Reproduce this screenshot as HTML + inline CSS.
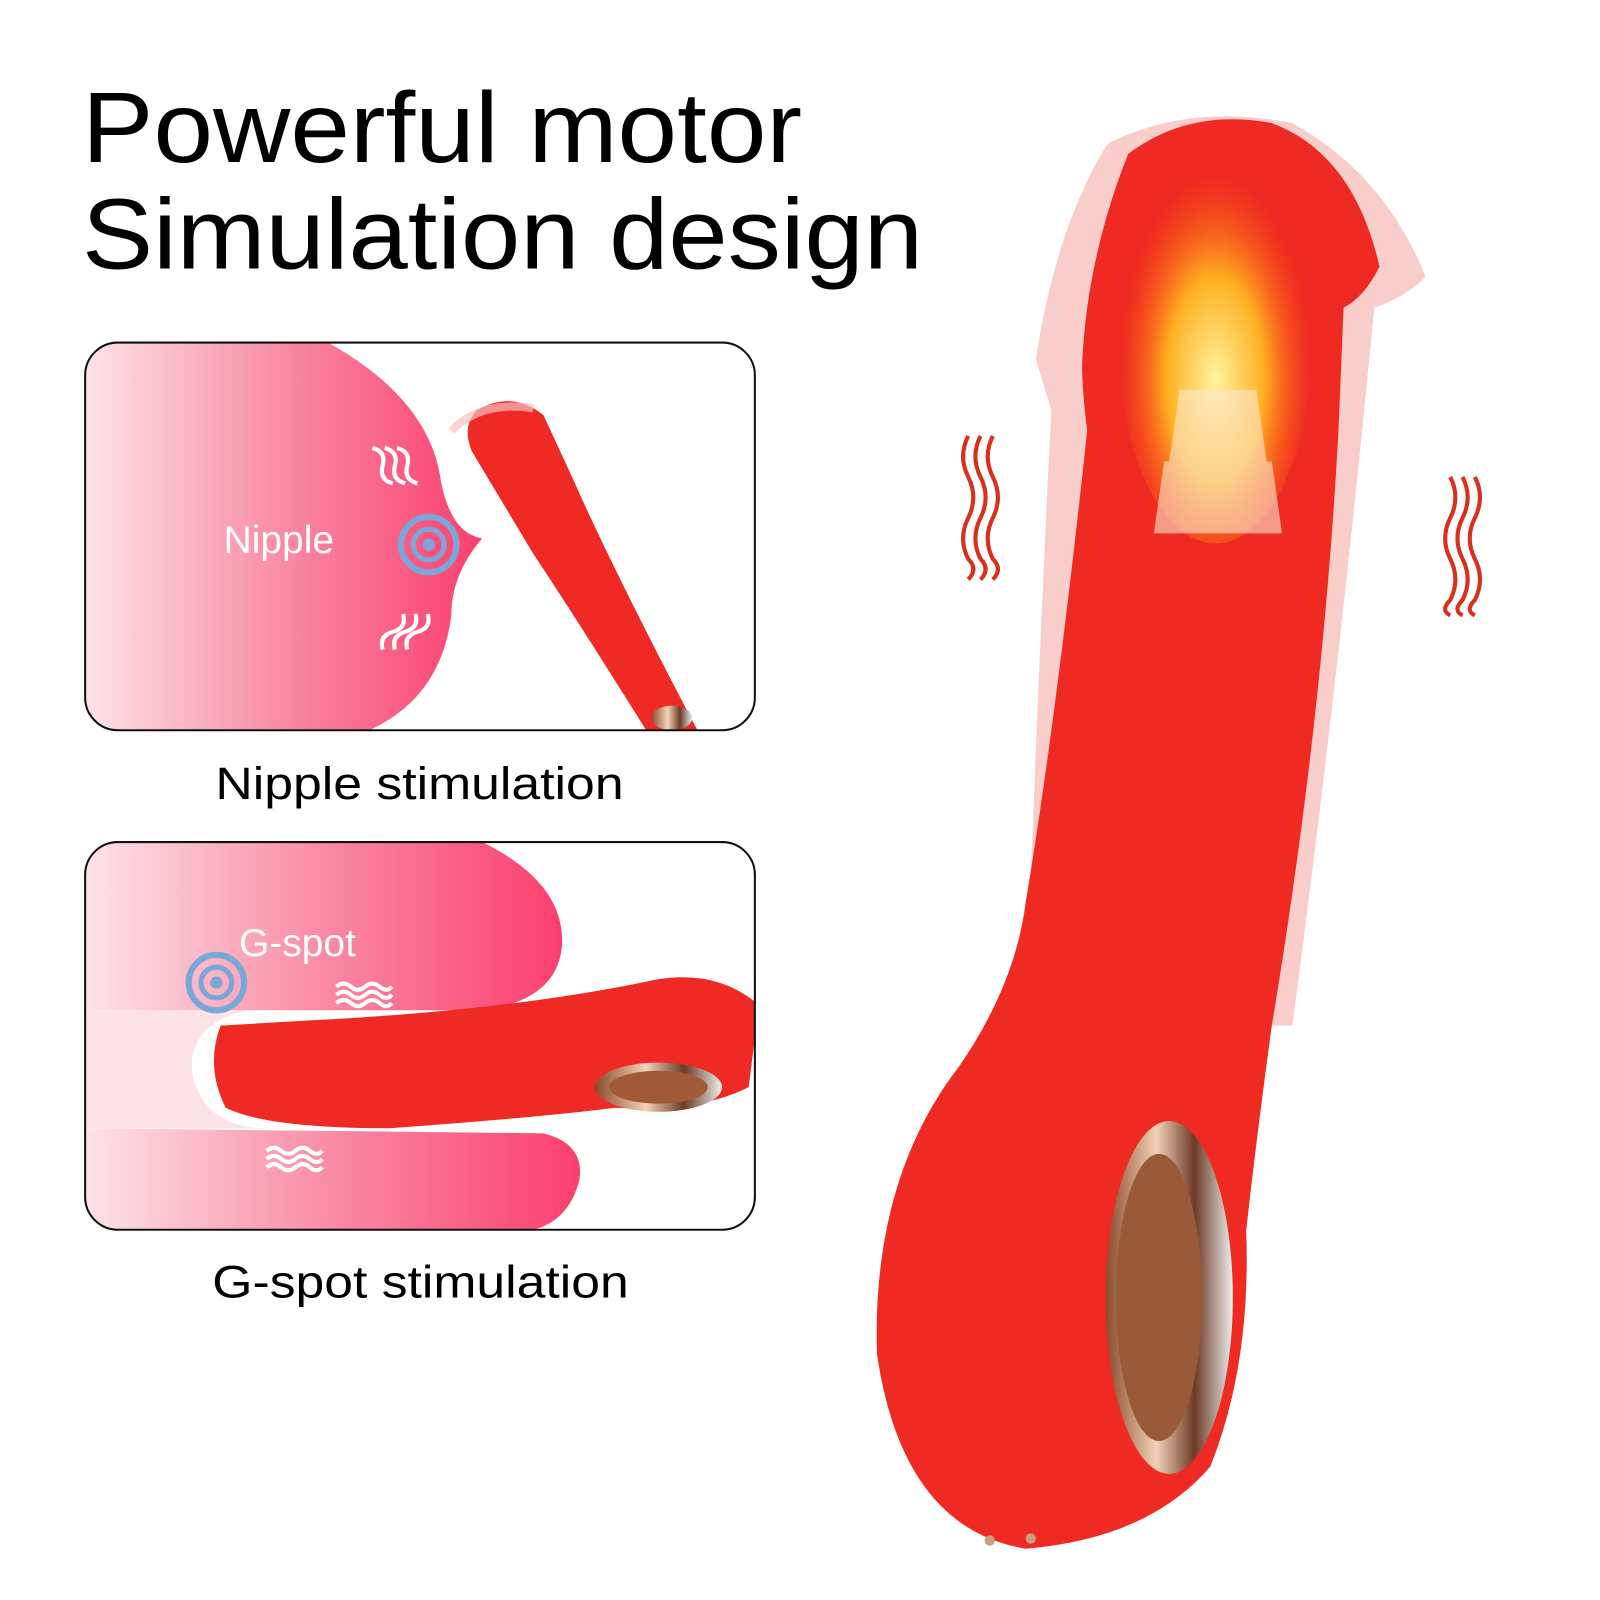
<!DOCTYPE html>
<html><head><meta charset="utf-8"><style>
html,body{margin:0;padding:0;background:#fff;}
svg{display:block;}
text{font-family:"Liberation Sans",Arial,sans-serif;}
</style></head><body>
<svg width="1600" height="1600" viewBox="0 0 1560 1560" xmlns="http://www.w3.org/2000/svg">
<defs>
<linearGradient id="pk" x1="0" x2="1" y1="0" y2="0">
<stop offset="0" stop-color="#fde3e8"/><stop offset="0.5" stop-color="#f98aa4"/><stop offset="1" stop-color="#fb3f6e"/></linearGradient>
<linearGradient id="chr" x1="0" x2="1"><stop offset="0" stop-color="#8a4a2a"/><stop offset="0.4" stop-color="#f3d2b8"/><stop offset="0.7" stop-color="#6b3a25"/><stop offset="1" stop-color="#eee"/></linearGradient>
<radialGradient id="fl" cx="0.5" cy="0.6" r="0.5"><stop offset="0" stop-color="#fff4a0"/><stop offset="0.5" stop-color="#ffb020"/><stop offset="1" stop-color="#ff5a10" stop-opacity="0"/></radialGradient>
<clipPath id="c1"><rect x="83" y="334" width="653" height="378" rx="32"/></clipPath>
<clipPath id="c2"><rect x="83" y="821" width="653" height="378" rx="32"/></clipPath>
</defs>
<text x="80" y="158" font-size="98" textLength="702" lengthAdjust="spacingAndGlyphs">Powerful motor</text>
<text x="80" y="262" font-size="98" textLength="820" lengthAdjust="spacingAndGlyphs">Simulation design</text>

<g clip-path="url(#c1)">
<path d="M83 334 L320 334 Q420 390 430 470 Q440 520 470 525 Q440 560 440 600 Q430 680 360 712 L83 712 Z" fill="url(#pk)"/>
<path d="M465 400 Q500 380 530 405 L560 470 Q600 560 680 712 L630 712 Q560 600 520 540 L460 440 Q450 415 465 400 Z" fill="#ef2a24"/>
<path d="M440 420 Q470 390 520 398" stroke="#f7c0c0" stroke-width="8" fill="none" opacity="0.7"/>
<ellipse cx="655" cy="700" rx="20" ry="12" fill="url(#chr)"/>
</g>
<rect x="83" y="334" width="653" height="378" rx="32" fill="none" stroke="#111" stroke-width="2"/>
<text x="218" y="539" font-size="38" fill="#fff">Nipple</text>
<circle cx="418" cy="531" r="27" fill="none" stroke="#7aa6d8" stroke-width="6"/>
<circle cx="418" cy="531" r="15" fill="none" stroke="#7aa6d8" stroke-width="5"/>
<circle cx="418" cy="531" r="6" fill="#7aa6d8"/>
<g stroke="#fff" stroke-width="4" fill="none">
<path d="M372 430 q10 10 0 20 q-10 10 0 20" transform="rotate(-30 380 450)"/>
<path d="M384 430 q10 10 0 20 q-10 10 0 20" transform="rotate(-30 392 450)"/>
<path d="M396 430 q10 10 0 20 q-10 10 0 20" transform="rotate(-30 404 450)"/>
<path d="M382 600 q10 10 0 20 q-10 10 0 20" transform="rotate(30 390 620)"/>
<path d="M394 600 q10 10 0 20 q-10 10 0 20" transform="rotate(30 402 620)"/>
<path d="M406 600 q10 10 0 20 q-10 10 0 20" transform="rotate(30 414 620)"/>
</g>
<text x="210" y="779" font-size="44" textLength="398" lengthAdjust="spacingAndGlyphs">Nipple stimulation</text>

<g clip-path="url(#c2)">
<path d="M83 821 L470 821 Q550 860 548 920 Q545 975 470 985 L83 985 Z" fill="url(#pk)"/>
<path d="M83 1100 L530 1105 Q570 1115 565 1150 Q555 1190 520 1199 L83 1199 Z" fill="url(#pk)"/>
<path d="M83 985 L240 985 Q180 1000 188 1050 Q200 1095 250 1100 L83 1100 Z" fill="#fde3e8"/>
<path d="M215 1000 Q200 1040 220 1080 Q260 1100 380 1100 Q520 1090 600 1080 Q680 1085 730 1060 L740 980 Q700 945 640 955 Q500 985 300 995 Z" fill="#ef2a24"/>
<ellipse cx="642" cy="1060" rx="62" ry="24" fill="url(#chr)"/>
<ellipse cx="642" cy="1060" rx="48" ry="16" fill="#a05a38"/>
</g>
<rect x="83" y="821" width="653" height="378" rx="32" fill="none" stroke="#111" stroke-width="2"/>
<text x="233" y="932" font-size="38" fill="#fff">G-spot</text>
<circle cx="211" cy="958" r="27" fill="none" stroke="#7aa6d8" stroke-width="6"/>
<circle cx="211" cy="958" r="15" fill="none" stroke="#7aa6d8" stroke-width="5"/>
<circle cx="211" cy="958" r="6" fill="#7aa6d8"/>
<g stroke="#fff" stroke-width="4" fill="none">
<path d="M328 962 q7 -6 14 0 t14 0 t14 0 t12 0"/><path d="M328 970 q7 -6 14 0 t14 0 t14 0 t12 0"/><path d="M328 978 q7 -6 14 0 t14 0 t14 0 t12 0"/>
<path d="M260 1122 q7 -6 14 0 t14 0 t14 0 t12 0"/><path d="M260 1130 q7 -6 14 0 t14 0 t14 0 t12 0"/><path d="M260 1138 q7 -6 14 0 t14 0 t14 0 t12 0"/>
</g>
<text x="207" y="1265" font-size="44" textLength="406" lengthAdjust="spacingAndGlyphs">G-spot stimulation</text>

<path d="M1010 350 Q1030 220 1080 140 Q1160 100 1260 120 Q1350 170 1390 270 Q1370 290 1340 300 L1330 400 Q1300 700 1260 1000 L1000 1000 Q1010 700 1025 400 Z" fill="#f6b8b4" opacity="0.7"/>
<path d="M1055 355 Q1060 250 1100 150 Q1160 105 1240 120 Q1320 150 1345 260 Q1330 290 1310 300 L1305 420 Q1290 700 1240 1000 Q1225 1110 1215 1200 Q1220 1330 1180 1430 Q1120 1500 1000 1510 Q880 1490 855 1320 Q850 1150 935 1040 Q990 960 1000 880 Q1030 700 1060 420 Q1055 380 1055 355 Z" fill="#ee2a22"/>
<ellipse cx="1140" cy="1265" rx="62" ry="172" fill="url(#chr)"/>
<ellipse cx="1130" cy="1265" rx="42" ry="140" fill="#9a5a3a"/>
<ellipse cx="1185" cy="330" rx="95" ry="200" fill="url(#fl)"/>
<path d="M1135 450 L1240 450 L1250 520 L1125 520 Z M1150 380 L1225 380 L1235 450 L1140 450 Z" fill="#fbe7cf" opacity="0.6"/>
<circle cx="965" cy="1502" r="5" fill="#c8a080"/><circle cx="1005" cy="1500" r="5" fill="#c8a080"/>
<g stroke="#d8301c" stroke-width="4" fill="none">
<path d="M944 425 q-10 20 0 40 q10 20 0 40 q-10 20 0 40 q10 10 0 20"/>
<path d="M956 425 q-10 20 0 40 q10 20 0 40 q-10 20 0 40 q10 10 0 20"/>
<path d="M968 425 q-10 20 0 40 q10 20 0 40 q-10 20 0 40 q10 10 0 20"/>
<path d="M1414 465 q10 20 0 40 q-10 20 0 40 q10 20 0 40 q-10 10 0 15"/>
<path d="M1426 465 q10 20 0 40 q-10 20 0 40 q10 20 0 40 q-10 10 0 15"/>
<path d="M1438 465 q10 20 0 40 q-10 20 0 40 q10 20 0 40 q-10 10 0 15"/>
</g>
</svg>
</body></html>
